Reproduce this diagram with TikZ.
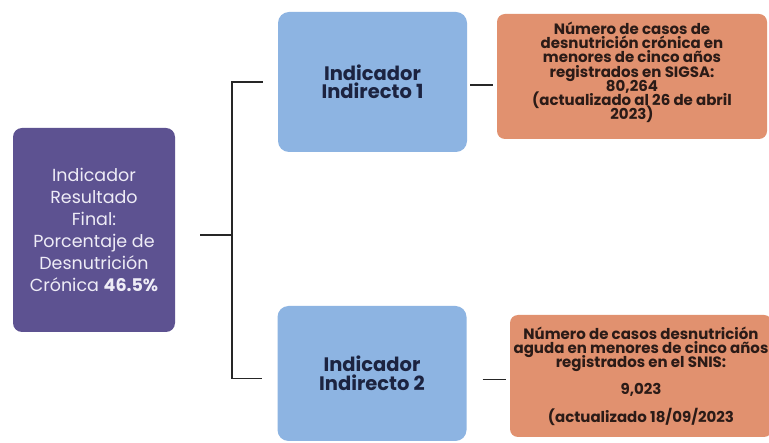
\documentclass[tikz,border=0pt]{standalone}
\usepackage{fontspec}
\setmainfont{Poppins}
\definecolor{resfill}{HTML}{5D5291}
\definecolor{indfill}{HTML}{8DB4E2}
\definecolor{datfill}{HTML}{E1916F}
\definecolor{restext}{HTML}{EEECF6}
\definecolor{indtext}{HTML}{1C2340}
\definecolor{dattext}{HTML}{2B1B17}
\newcommand{\tightlines}{\lineskiplimit=-20pt\relax}
\tikzset{
  resbox/.style={fill=resfill, rounded corners=9pt, text=restext, align=center,
    font=\fontsize{17.5}{22}\selectfont\tightlines, minimum width=162pt, minimum height=204pt},
  indbox/.style={fill=indfill, rounded corners=11pt, text=indtext, align=center,
    font=\fontsize{19.5}{18.5}\selectfont\bfseries\tightlines, minimum width=189pt},
  datbox/.style={fill=datfill, rounded corners=8pt, text=dattext, align=center,
    font=\fontsize{15}{14.2}\selectfont\bfseries\tightlines, minimum width=262pt},
  conn/.style={draw=black!85, line width=1.1pt}
}
\begin{document}
\begin{tikzpicture}[x=1pt, y=-1pt]
    % Canvas
    \useasboundingbox[fill=white] (0,0) rectangle (769,443);

    % Final result
    \node[resbox] (res) at (94,230) {Indicador\\Resultado\\Final:\\Porcentaje de\\Desnutrición\\Crónica \textbf{46.5\%}};

    % Indirect indicators
    \node[indbox, minimum height=140pt] (ind1) at (372.5,82) {Indicador\\Indirecto 1};
    \node[indbox, minimum height=135pt] (ind2) at (372,373.5) {Indicador\\Indirecto 2};

    % Data boxes
    \node[datbox, minimum width=270pt, minimum height=125pt] (dat1) at (632,76.5) {Número de casos de\\desnutrición crónica en\\menores de cinco años\\registrados en SIGSA:\\80,264\\(actualizado al 26 de abril\\2023)\\[-3pt]{}};
    \node[datbox, minimum height=122pt] (dat2) at (641,376) {Número de casos desnutrición\\aguda en menores de cinco años\\registrados en el SNIS:\\[13pt]9,023\\[13pt](actualizado 18/09/2023};

    % Connectors
    \coordinate (j) at (232,235);
    \draw[conn, shorten <=25pt] (res.east |- j) -- (j);
    \draw[conn] ([xshift=-15pt]ind1.west) -| (j) |- ([xshift=-15pt,yshift=-5pt]ind2.west);
    \draw[conn, shorten <=3pt, shorten >=4pt] ([yshift=-3pt]ind1.east) -- ([yshift=-3pt]ind1.east -| dat1.west);
    \draw[conn, shorten <=16pt, shorten >=4pt] ([yshift=-6pt]ind2.east) -- ([yshift=-6pt]ind2.east -| dat2.west);
  \end{tikzpicture}
\end{document}
